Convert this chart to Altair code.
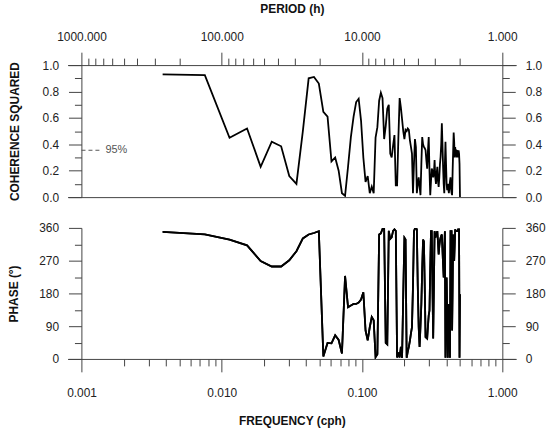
import altair as alt
import pandas as pd

# ---------------- data ----------------
N_EST = 132
DF = 0.5 / N_EST          # spectral resolution (cph)
harmonic = list(range(1, N_EST + 1))

coherence = [
    0.93, 0.924, 0.45, 0.52, 0.23, 0.42, 0.385, 0.16, 0.10, 0.50,
    0.90, 0.91, 0.86, 0.645, 0.61, 0.27, 0.30, 0.20, 0.03, 0.01,
    0.23, 0.455, 0.61, 0.72, 0.745, 0.58, 0.30, 0.115, 0.16, 0.03,
    0.08, 0.03, 0.45, 0.53, 0.73, 0.79, 0.75, 0.44, 0.54, 0.67,
    0.70, 0.33, 0.30, 0.39, 0.47, 0.09, 0.09, 0.45, 0.75, 0.68,
    0.59, 0.50, 0.44, 0.51, 0.50, 0.52, 0.51, 0.43, 0.38, 0.33,
    0.03, 0.25, 0.44, 0.38, 0.03, 0.10, 0.15, 0.08, 0.015, 0.25,
    0.455, 0.40, 0.38, 0.37, 0.355, 0.28, 0.216, 0.35, 0.455, 0.20,
    0.015, 0.12, 0.216, 0.20, 0.15, 0.18, 0.28, 0.15, 0.10, 0.18,
    0.23, 0.12, 0.078, 0.15, 0.25, 0.305, 0.40, 0.56, 0.40, 0.23,
    0.10, 0.03, 0.25, 0.42, 0.25, 0.10, 0.053, 0.10, 0.06, 0.03,
    0.08, 0.12, 0.15, 0.06, 0.03, 0.015, 0.20, 0.35, 0.49, 0.42,
    0.30, 0.38, 0.33, 0.36, 0.30, 0.355, 0.34, 0.30, 0.355, 0.33,
    0.25, 0.0,
]

phase = [
    349, 342, 328, 312, 269, 254, 254, 271, 296, 331,
    342, 346, 351, 7, 44, 43, 65, 52, 15, 228,
    142, 147, 151, 151, 155, 163, 183, 78, 51, 87,
    115, 106, 5, 13, 342, 345, 357, 357, 44, 40,
    352, 330, 334, 352, 356, 352, 4, 18, 4, 33,
    3, 180, 333, 328, 3, 20, 33, 50, 70, 87,
    200, 351, 358, 360, 356, 200, 87, 33, 90, 151,
    250, 328, 323, 200, 60, 58, 56, 90, 120, 133,
    250, 351, 351, 200, 56, 200, 351, 333, 340, 345,
    351, 320, 287, 310, 325, 333, 338, 342, 300, 260,
    224, 300, 351, 3, 120, 224, 120, 3, 80, 151,
    80, 3, 351, 351, 351, 78, 200, 342, 300, 269,
    310, 356, 351, 351, 351, 351, 351, 356, 356, 356,
    3, 178,
]

freq = [h * DF for h in harmonic]

# tick values
freq_ticks = [m * 10.0 ** e for e in (-3, -2, -1) for m in range(1, 10)] + [1.0]
period_ticks = [m * 10.0 ** e for e in (2, 1, 0) for m in range(10, 1, -1)] + [1.0]
period_tick_freqs = [1.0 / p for p in period_ticks]
coh_ticks = [round(i * 0.1, 1) for i in range(11)]
phase_ticks = list(range(0, 361, 45))

level_95 = 0.355
level_label = "95%"

df = pd.DataFrame({"freq": freq, "coh": coherence, "phase": phase})
lvl = pd.DataFrame({"f0": [0.001], "f1": [0.0014], "ft": [0.00148],
                    "y": [level_95], "t": [level_label]})

# ---------------- styling ----------------
FONT = "Liberation Sans"
AX = "#444444"
XDOM = [10 ** -3.1, 10 ** 0.1]
W = 452

base = dict(domainColor=AX, tickColor=AX, labelColor="#222222", titleColor="#111111",
            labelFont=FONT, titleFont=FONT, labelFontSize=12, titleFontSize=12,
            titleFontWeight="bold", domainWidth=1, tickWidth=1, labelFlush=False,
            labelOverlap=False, grid=False, labelBound=False)

dec = "abs(log(datum.value)/LN10 - round(log(datum.value)/LN10)) < 1e-6"
coh_major = "round(datum.value*10) % 2 == 0"
ph_major = "round(datum.value) % 90 == 0"

def tsize(test):
    # minor ticks short, major (default) ticks long
    return {"condition": {"test": f"!({test})", "value": 7}, "value": 13}

xscale = alt.Scale(type="log", domain=XDOM)

x_top = alt.X("freq:Q", scale=xscale, axis=alt.Axis(
    orient="top", values=period_tick_freqs, title="PERIOD (h)",
    tickSize=tsize(dec), labelExpr=f"({dec}) ? format(1/datum.value, '.3f') : ''",
    labelPadding=9, titlePadding=15, **base))
x_top_bottomline = alt.X("f0:Q", scale=xscale, axis=alt.Axis(
    orient="bottom", ticks=False, labels=False, title=None, **base))

y_coh_left = alt.Y("coh:Q", scale=alt.Scale(domain=[0, 1]), axis=alt.Axis(
    orient="left", values=coh_ticks, offset=-14, tickSize=tsize(coh_major),
    labelExpr=f"({coh_major}) ? format(datum.value, '.1f') : ''",
    title="COHERENCE SQUARED", labelPadding=10, titlePadding=21, **base))
y_coh_right = alt.Y("y:Q", scale=alt.Scale(domain=[0, 1]), axis=alt.Axis(
    orient="right", values=coh_ticks, offset=-14, tickSize=tsize(coh_major),
    labelExpr=f"({coh_major}) ? format(datum.value, '.1f') : ''",
    title=None, labelPadding=10, **base))

coh_line = alt.Chart(df).mark_line(color="black", strokeWidth=1.8, clip=True).encode(
    x=x_top, y=y_coh_left)
level_rule = alt.Chart(lvl).mark_rule(color="#555555", strokeDash=[4, 3], strokeWidth=1).encode(
    x=x_top_bottomline, x2="f1:Q", y=y_coh_right)
level_text = alt.Chart(lvl).mark_text(align="left", baseline="middle", font=FONT,
                                      fontSize=11, color="#555555").encode(
    x=alt.X("ft:Q", scale=xscale, axis=None),
    y=alt.Y("y:Q", scale=alt.Scale(domain=[0, 1]), axis=None),
    text="t:N")

top = alt.layer(coh_line, level_rule, level_text).resolve_axis(
    x="independent", y="independent").properties(width=W, height=133)

x_bot = alt.X("freq:Q", scale=xscale, axis=alt.Axis(
    orient="bottom", values=freq_ticks, title="FREQUENCY (cph)",
    tickSize=tsize(dec), labelExpr=f"({dec}) ? format(datum.value, '.3f') : ''",
    labelPadding=16, titlePadding=17, **base))
y_ph_left = alt.Y("phase:Q", scale=alt.Scale(domain=[0, 360]), axis=alt.Axis(
    orient="left", values=phase_ticks, offset=-14, tickSize=tsize(ph_major),
    labelExpr=f"({ph_major}) ? format(datum.value, 'd') : ''",
    title="PHASE (°)", labelPadding=10, titlePadding=18, **base))
y_ph_right = alt.Y("phase:Q", scale=alt.Scale(domain=[0, 360]), axis=alt.Axis(
    orient="right", values=phase_ticks, offset=-14, tickSize=tsize(ph_major),
    labelExpr=f"({ph_major}) ? format(datum.value, 'd') : ''",
    title=None, labelPadding=10, **base))

ph_line = alt.Chart(df).mark_line(color="black", strokeWidth=1.8, clip=True).encode(
    x=x_bot, y=y_ph_left)
ph_line2 = alt.Chart(df).mark_line(color="black", strokeWidth=1.8, clip=True).encode(
    x=alt.X("freq:Q", scale=xscale, axis=None), y=y_ph_right)

bottom = alt.layer(ph_line, ph_line2).resolve_axis(
    x="independent", y="independent").properties(width=W, height=132)

chart = alt.vconcat(top, bottom, spacing=19).properties(
    padding={"left": 7, "top": 1, "right": 0, "bottom": 0},
    background="white",
).configure_view(stroke=None)

chart.save("out.html", embed_options={"renderer": "svg", "actions": False})
